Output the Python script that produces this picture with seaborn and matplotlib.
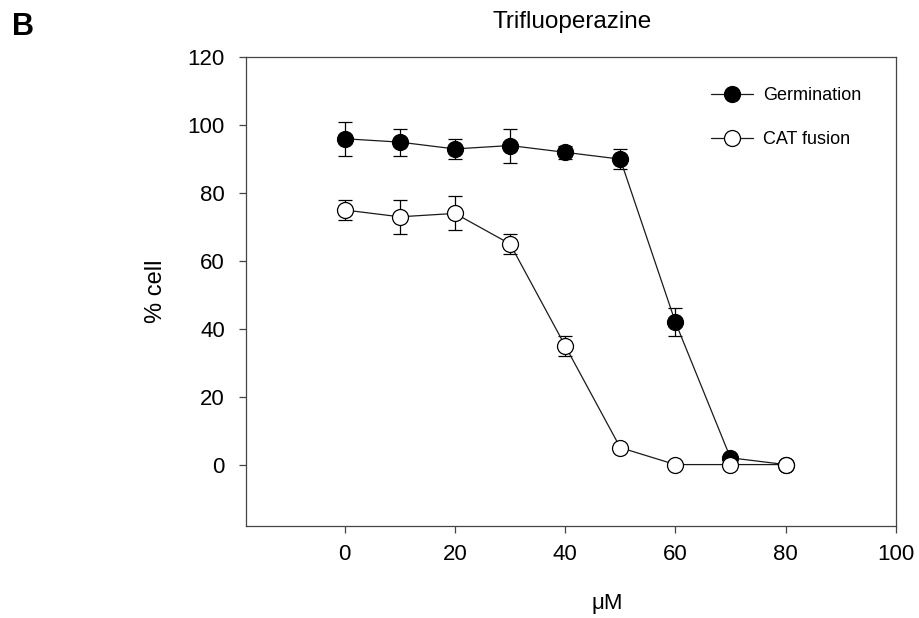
import matplotlib
matplotlib.use('Agg')
import matplotlib.pyplot as plt
import numpy as np
import pandas as pd
import seaborn as sns

# Data
conc = [0, 10, 20, 30, 40, 50, 60, 70, 80]
germination = [96, 95, 93, 94, 92, 90, 42, 2, 0]
germination_err = [5, 4, 3, 5, 2, 3, 4, 0, 0]
cat_fusion = [75, 73, 74, 65, 35, 5, 0, 0, 0]
cat_fusion_err = [3, 5, 5, 3, 3, 0, 0, 0, 0]
series_names = ['Germination', 'CAT fusion']

sns.set_style('ticks')
plt.rcParams['font.family'] = ['Liberation Sans', 'DejaVu Sans']
plt.rcParams['text.color'] = 'black'
plt.rcParams['axes.labelcolor'] = 'black'
plt.rcParams['xtick.labelcolor'] = 'black'
plt.rcParams['ytick.labelcolor'] = 'black'

df = pd.DataFrame({
    'conc': conc * 2,
    'value': germination + cat_fusion,
    'err': germination_err + cat_fusion_err,
    'series': [series_names[0]] * len(conc) + [series_names[1]] * len(conc),
})

fig = plt.figure(figsize=(9.2, 6.18), dpi=100)
ax = fig.add_axes([0.267, 0.1494, 0.9736 - 0.267, 0.9073 - 0.1494])

faces = {'Germination': 'black', 'CAT fusion': 'white'}
for i, name in enumerate(series_names):
    sub = df[df['series'] == name]
    ax.errorbar(sub['conc'], sub['value'], yerr=sub['err'], fmt='none',
                ecolor='black', elinewidth=0.9, capsize=4.8, capthick=0.9,
                zorder=2 + i * 2)
    sns.lineplot(data=sub, x='conc', y='value', ax=ax, color='#1a1a1a',
                 linewidth=0.9, marker='o', markersize=11.5,
                 markerfacecolor=faces[name], markeredgecolor='black',
                 markeredgewidth=0.9, errorbar=None, label=name,
                 zorder=3 + i * 2)

ax.set_xlim(-18, 100)
ax.set_ylim(-18, 120)
ax.set_xticks(range(0, 101, 20))
ax.set_yticks(range(0, 121, 20))
ax.tick_params(axis='both', labelsize=16, length=5, width=0.9,
               color='#444444', direction='out')
ax.tick_params(axis='x', pad=8)
ax.tick_params(axis='y', pad=10)
for sp in ax.spines.values():
    sp.set_visible(True)
    sp.set_linewidth(0.9)
    sp.set_color('#444444')
ax.set_xlabel('')
ax.set_ylabel('% cell', fontsize=17, labelpad=15)

fig.text(607 / 920, 1 - 603 / 618, 'μM', fontsize=16, ha='center', va='center')
fig.text(572 / 920, 1 - 22 / 618, 'Trifluoperazine', fontsize=17.5,
         ha='center', va='center')
fig.text(12 / 920, 1 - 27 / 618, 'B', fontsize=22, fontweight='bold',
         ha='left', va='center')

ax.legend(loc='upper left', bbox_to_anchor=(711 / 920, 1 - 87 / 618),
          bbox_transform=fig.transFigure, frameon=False, fontsize=13,
          handlelength=2.3, handletextpad=0.6, labelspacing=1.5,
          borderpad=0, borderaxespad=0)

fig.savefig('out.png', dpi=100)
